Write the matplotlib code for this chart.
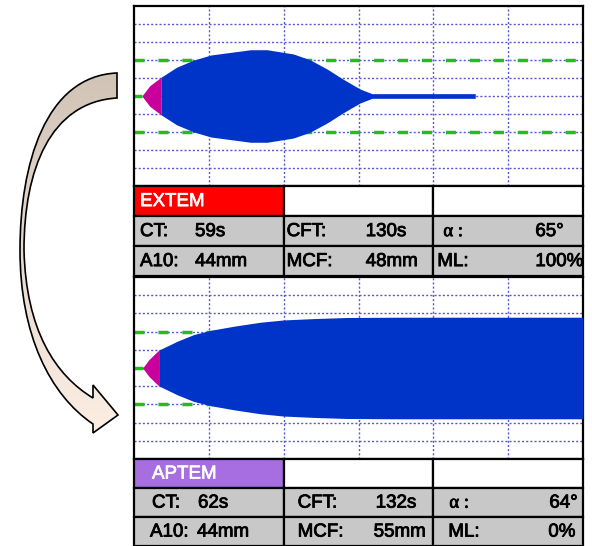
import numpy as np
import matplotlib.pyplot as plt
import matplotlib.patheffects as pe
from matplotlib.patches import Rectangle, PathPatch
from matplotlib.path import Path
from matplotlib.colors import LinearSegmentedColormap

plt.rcParams['font.family'] = ['Liberation Sans', 'DejaVu Sans']

# EXTEM trace: time (min) and amplitude (mm)
extem_time = [1.1, 2.1, 3.6, 5.7, 8.0, 10.3, 13.4, 15.6, 17.8, 21.3, 23.5, 25.8, 27.9, 30.2, 31.8, 45.6]
extem_amp = [0.5, 11.4, 20.8, 32.0, 40.0, 45.6, 49.0, 51.4, 51.4, 46.7, 40.3, 30.0, 18.9, 7.8, 2.6, 2.6]
extem_cft_end = 3.6

# APTEM trace
aptem_time = [1.2, 2.0, 3.3, 5.8, 8.0, 10.3, 13.4, 16.9, 20.0, 24.0, 28.5, 35.0, 45.0, 60.0]
aptem_amp = [0.5, 9.3, 19.6, 29.5, 36.8, 41.5, 46.0, 50.3, 52.8, 54.3, 55.5, 55.8, 55.8, 55.8]
aptem_cft_end = 3.3

param_labels = [['CT:', 'CFT:', 'α :'], ['A10:', 'MCF:', 'ML:']]
extem_values = [['59s', '130s', '65°'], ['44mm', '48mm', '100%']]
aptem_values = [['62s', '132s', '64°'], ['44mm', '55mm', '0%']]

BLUE = '#0033c8'
MAGENTA = '#c8009c'
GREEN = '#1ec01e'
GRID = '#5a5ac8'
W, H = 592, 546


def px_rect(x0, y0, x1, y1):
    return [x0 / W, (H - y1) / H, (x1 - x0) / W, (y1 - y0) / H]


def trace(ax, t, amp, cft_end):
    t = np.array(t)
    a = np.array(amp) / 2
    ax.set_xlim(0, 60)
    ax.set_ylim(-50, 50)
    for x in range(10, 60, 10):
        ax.axvline(x, color=GRID, lw=1, ls=(0, (1.5, 1.5)), zorder=1)
    for y in range(-40, 50, 10):
        ax.axhline(y, color=GRID, lw=1, ls=(0, (1.5, 1.5)), zorder=1)
    for y in (-20, 20):
        ax.axhline(y, color=GREEN, lw=2.5, ls=(0, (2.9, 4)), zorder=2)
    ax.hlines(0, 0, t[0], color=GREEN, lw=2.5, zorder=2)
    m = t <= cft_end
    ax.fill_between(t[m], -a[m], a[m], color=MAGENTA, lw=0, zorder=3)
    k = np.argmax(~m) - 1
    ax.fill_between(t[k:], -a[k:], a[k:], color=BLUE, lw=0, zorder=3)
    ax.set_xticks([])
    ax.set_yticks([])
    for s in ax.spines.values():
        s.set_linewidth(1.6)
        s.set_color('black')


def table(ax, name, color, values, name_off, lab_off, val_off):
    cw = 449 / 3
    ax.set_xlim(0, 3)
    ax.set_ylim(3, 0)
    ax.axis('off')
    thick = [pe.withStroke(linewidth=0.6, foreground='black')]
    for c in range(3):
        ax.add_patch(Rectangle((c, 0), 1, 1, fc=color if c == 0 else 'white',
                               ec='black', lw=1.6, clip_on=False))
        for r in range(2):
            ax.add_patch(Rectangle((c, r + 1), 1, 1, fc='#c8c8c8',
                                   ec='black', lw=1.6, clip_on=False))
            lab = param_labels[r][c]
            fam = ['Liberation Serif'] if lab.startswith('α') else None
            ax.text(c + lab_off[r][c] / cw, r + 1.52, lab, fontsize=13.5,
                    va='center', ha='left', family=fam, path_effects=thick)
            ax.text(c + val_off[r][c] / cw, r + 1.52, values[r][c], fontsize=13.5,
                    va='center', ha='left', path_effects=thick)
    ax.text(name_off / cw, 0.52, name, color='white', fontsize=13.5, va='center', ha='left',
            path_effects=[pe.withStroke(linewidth=0.5, foreground='white')])


fig = plt.figure(figsize=(W / 100, H / 100), dpi=100)

ax1 = fig.add_axes(px_rect(134, 6, 583, 186))
trace(ax1, extem_time, extem_amp, extem_cft_end)
ax2 = fig.add_axes(px_rect(134, 277, 583, 459))
trace(ax2, aptem_time, aptem_amp, aptem_cft_end)

t1 = fig.add_axes(px_rect(134, 186, 583, 276))
table(t1, 'EXTEM', '#ff0000', extem_values, 6,
      [[6, 3, 10], [6, 3, 4]], [[61, 82, 102], [61, 82, 102]])
t2 = fig.add_axes(px_rect(134, 459, 583, 546))
table(t2, 'APTEM', '#a66ee0', aptem_values, 18,
      [[18, 14, 16], [16, 14, 15]], [[64, 92, 116], [63, 90, 115]])

# curved arrow on the left (pixel coordinates)
arr = fig.add_axes([0, 0, 1, 1], zorder=-1)
arr.axis('off')
M, C, L = Path.MOVETO, Path.CURVE4, Path.LINETO
verts = [(117, 73),
         (45, 76), (20, 165), (20, 250),
         (20, 335), (50, 395), (93, 424),
         (93, 433), (118, 415), (93, 385), (93, 398),
         (55, 375), (26, 330), (24, 250),
         (24, 170), (50, 102), (117, 98),
         (117, 73)]
codes = [M, C, C, C, C, C, C, L, L, L, L, C, C, C, C, C, C, Path.CLOSEPOLY]
path = Path(verts, codes)
arr.add_patch(PathPatch(path, fc='none', ec='black', lw=1.2, zorder=3))
cmap = LinearSegmentedColormap.from_list('arr', ['#d0c3b6', '#fdefe4'])
grad = np.linspace(0, 1, 256).reshape(-1, 1)
im = arr.imshow(grad, cmap=cmap, extent=(10, 125, 440, 65), origin='upper',
                aspect='auto', zorder=2)
im.set_clip_path(PathPatch(path, transform=arr.transData))
arr.set_xlim(0, W)
arr.set_ylim(H, 0)

fig.savefig('out.png', dpi=100)
